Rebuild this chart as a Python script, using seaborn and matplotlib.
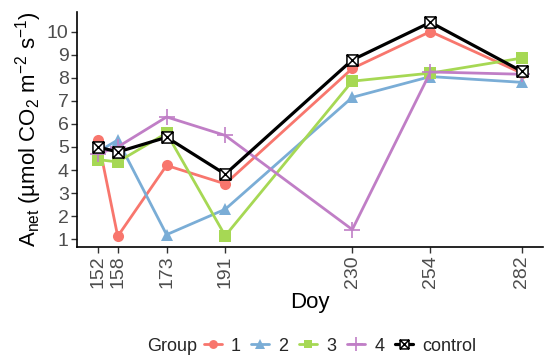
import numpy as np
import pandas as pd
import matplotlib
matplotlib.use("Agg")
import matplotlib.pyplot as plt
import seaborn as sns
from matplotlib.path import Path
from matplotlib.lines import Line2D

doy = [152, 158, 173, 191, 230, 254, 282]
groups = ["1", "2", "3", "4", "control"]
g1 = [5.3, 1.13, 4.2, 3.4, 8.4, 10.0, 8.2]
g2 = [4.8, 5.3, 1.2, 2.3, 7.15, 8.05, 7.8]
g3 = [4.45, 4.35, 5.6, 1.15, 7.85, 8.2, 8.85]
g4 = [4.7, 5.0, 6.3, 5.5, 1.42, 8.25, 8.15]
control = [5.0, 4.78, 5.42, 3.82, 8.77, 10.4, 8.28]
values = [g1, g2, g3, g4, control]
colors = ["#F8766D", "#7AADD6", "#A6D854", "#C07EC6", "#000000"]

rows = []
for g, v in zip(groups, values):
    for d, y in zip(doy, v):
        rows.append({"Doy": d, "Anet": y, "Group": g})
df = pd.DataFrame(rows)

sns.set_theme(style="white")
plt.rcParams["font.family"] = ["Liberation Sans", "DejaVu Sans"]
plt.rcParams["mathtext.fontset"] = "custom"
plt.rcParams["mathtext.rm"] = "Liberation Sans"
plt.rcParams["mathtext.it"] = "Liberation Sans:italic"

verts = [(-1, -1), (1, -1), (1, 1), (-1, 1), (-1, -1), (1, 1), (-1, 1), (1, -1)]
codes = [Path.MOVETO, Path.LINETO, Path.LINETO, Path.LINETO, Path.LINETO,
         Path.LINETO, Path.MOVETO, Path.LINETO]
boxx = Path(verts, codes)

markers = ["o", "^", "s", "+", boxx]
msizes = [8, 9, 8, 12, 8]


def style_kw(g, c, m, ms, legend=False):
    kw = dict(color=c, marker=m, markersize=ms, linewidth=2.0, markeredgecolor=c)
    if g == "control":
        kw.update(markerfacecolor="white", markeredgecolor="black",
                  markeredgewidth=1.1, linewidth=2.3)
    elif g == "4":
        kw.update(markeredgewidth=1.2)
    else:
        kw.update(markeredgewidth=0)
    if legend:
        kw["markersize"] = ms * 0.8
    return kw


fig = plt.figure(figsize=(5.5, 3.62), dpi=100)
ax = fig.add_axes([0.140, 0.318, 0.847, 0.649])

for g, c, m, ms in zip(groups, colors, markers, msizes):
    sub = df[df["Group"] == g]
    sns.lineplot(data=sub, x="Doy", y="Anet", ax=ax, legend=False, **style_kw(g, c, m, ms))

ax.set_xlim(145.5, 288.5)
ax.set_ylim(0.67, 10.85)
ax.set_xticks(doy)
ax.set_xticklabels([str(d) for d in doy], rotation=90)
ax.set_yticks(range(1, 11))
ax.tick_params(axis="both", labelsize=14, labelcolor="#4D4D4D", color="#333333",
               length=4, width=1, direction="out", bottom=True, left=True, pad=2)
for s in ["top", "right"]:
    ax.spines[s].set_visible(False)
for s in ["left", "bottom"]:
    ax.spines[s].set_color("black")
    ax.spines[s].set_linewidth(1.2)
ax.set_xlabel("Doy", fontsize=16, color="black", labelpad=3)
ax.set_ylabel(r"A$_{\rm net}$ (µmol CO$_2$ m$^{-2}$ s$^{-1}$)", fontsize=16,
              color="black", labelpad=2)

handles = [Line2D([0], [0], **style_kw(g, c, m, ms, legend=True))
           for g, c, m, ms in zip(groups, colors, markers, msizes)]

fig.text(0.267, 0.044, "Group", fontsize=13, ha="left", va="center")
fig.legend(handles, groups, loc="center left", bbox_to_anchor=(0.370, 0.044), ncol=5,
           frameon=False, fontsize=13, handlelength=1.0, handletextpad=0.5,
           columnspacing=0.6, borderpad=0, borderaxespad=0)

fig.savefig("out.png", dpi=100)
